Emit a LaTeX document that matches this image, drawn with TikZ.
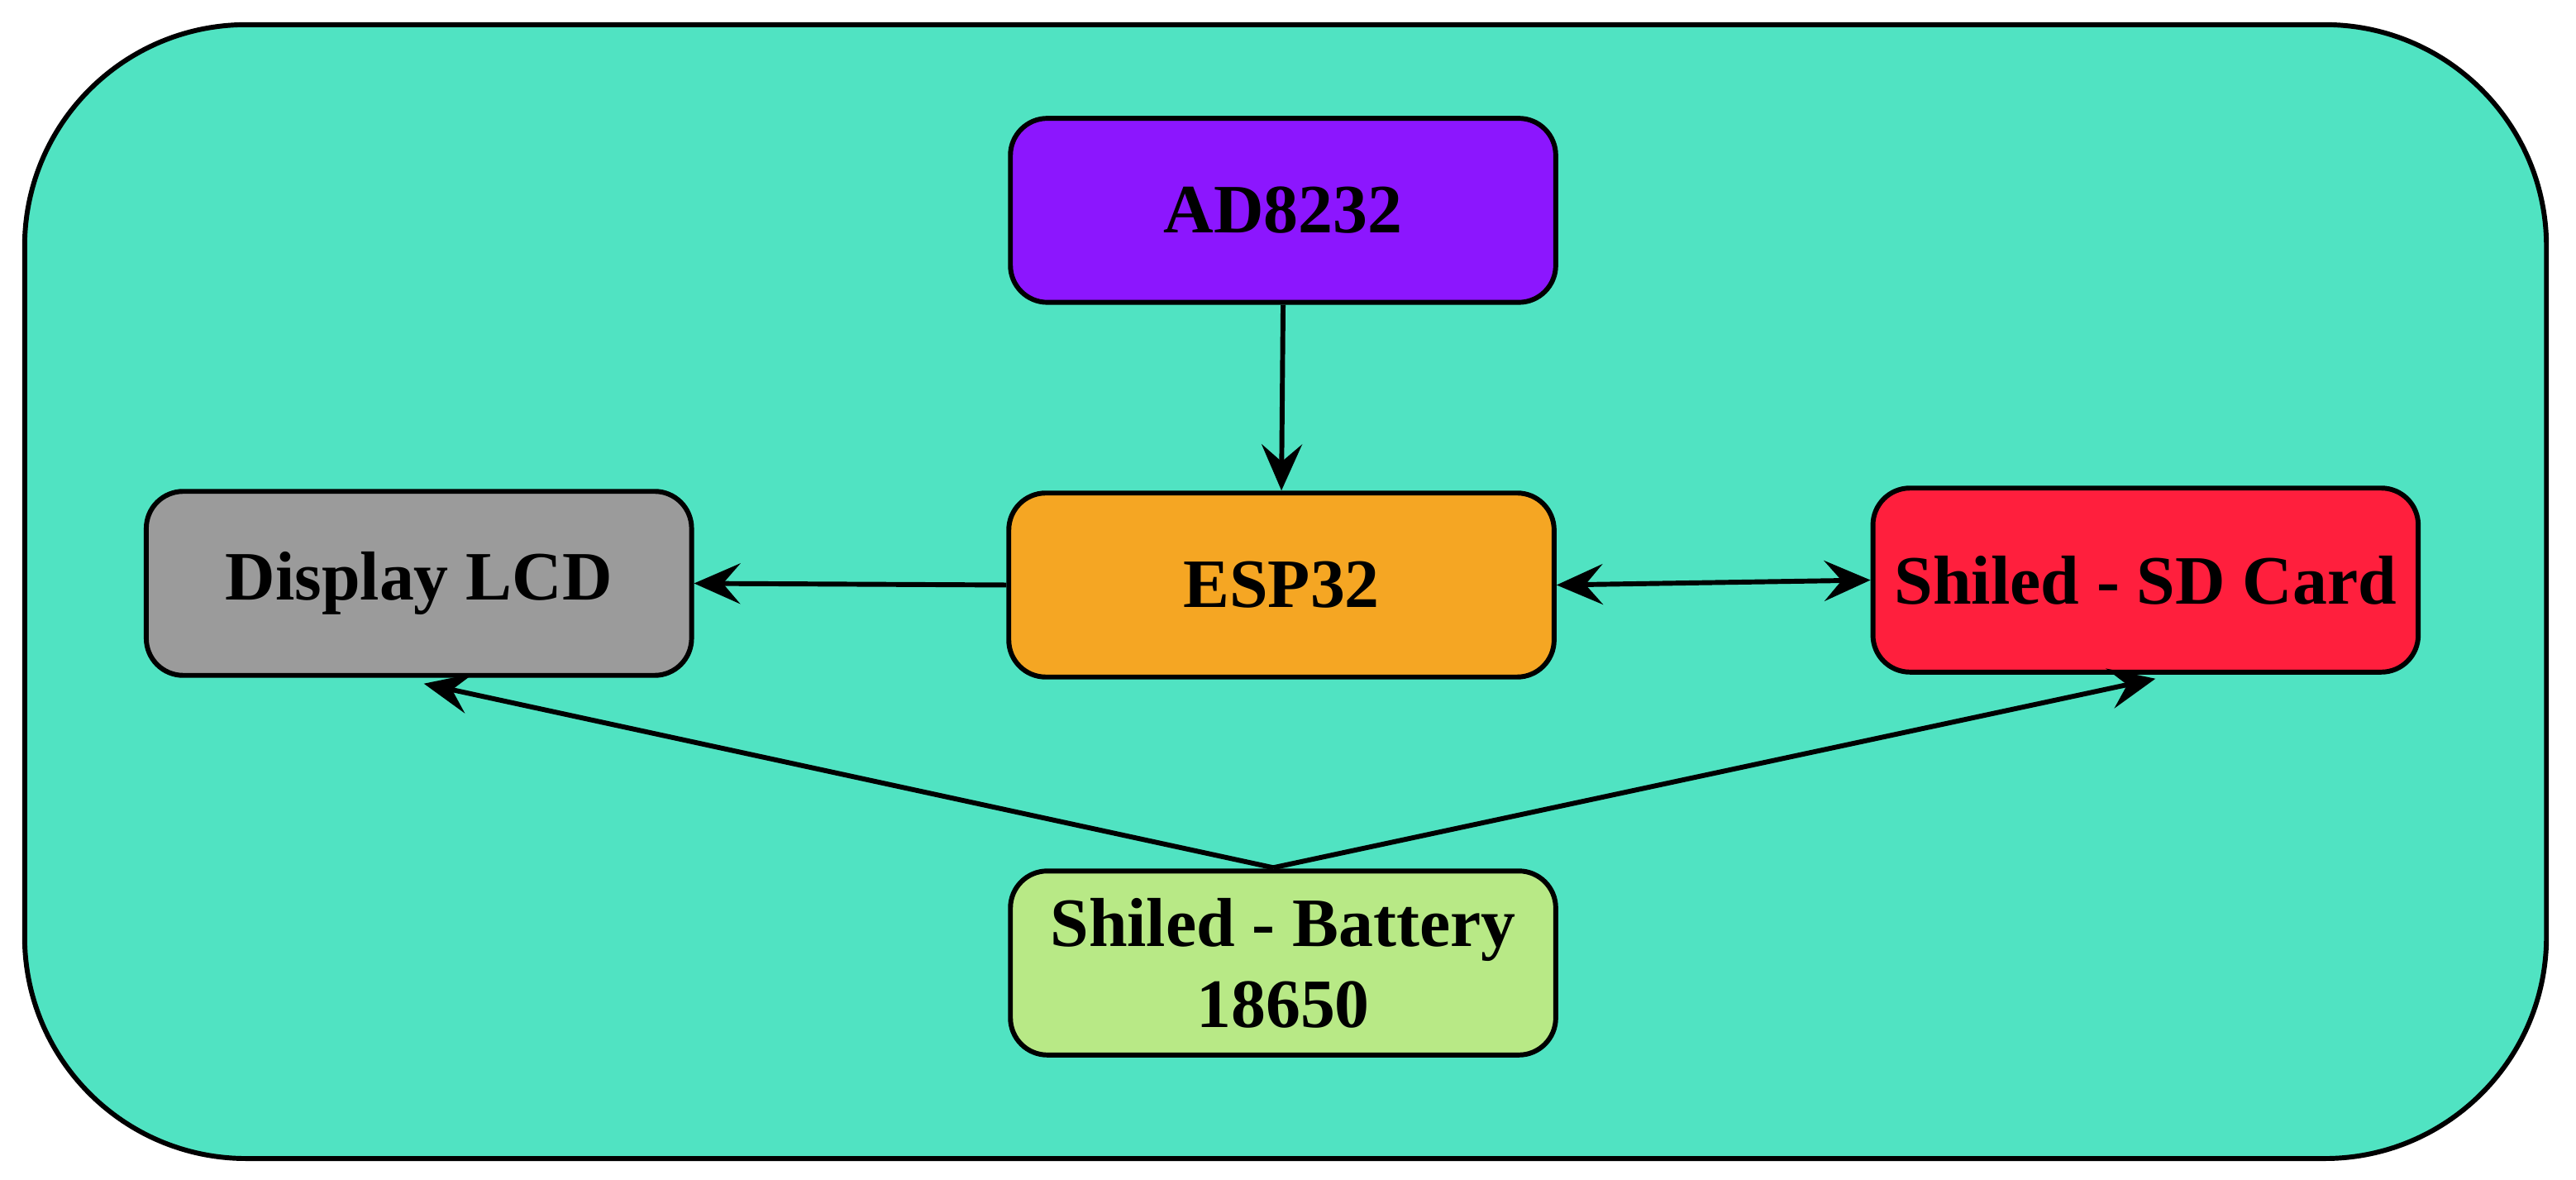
\documentclass[tikz,border=0pt]{standalone}
\usepackage{fontspec}
\setmainfont{Liberation Serif}
\usetikzlibrary{arrows.meta, calc}
\definecolor{bgteal}{HTML}{50E3C2}
\definecolor{adpurple}{HTML}{8C16FE}
\definecolor{esporange}{HTML}{F5A623}
\definecolor{lcdgrey}{HTML}{9B9B9B}
\definecolor{sdred}{HTML}{FF1F3D}
\definecolor{batgreen}{HTML}{B8E986}
\tikzset{>={Stealth[length=16pt, width=14pt, inset=6pt]}}
\tikzset{block/.style={draw=black, line width=1.7pt, rounded corners=0.45cm,
    minimum width=6.64cm, minimum height=2.24cm, align=center,
    font=\fontsize{24}{28}\selectfont\bfseries}}
\begin{document}
\begin{tikzpicture}[x=0.02cm, y=-0.02cm]
            \useasboundingbox (0,0) rectangle (1568,718);
            \draw[fill=bgteal, line width=1.7pt, rounded corners=2.7cm] (15,15) rectangle (1550,705);

            \node[block, fill=adpurple] (ad) at (781,128) {AD8232};
            \node[block, fill=esporange] (esp) at (780,356) {ESP32};
            \node[block, fill=lcdgrey] (lcd) at (255,355) {Display LCD};
            \node[block, fill=sdred] (sd) at (1306,353) {Shiled - SD Card};
            \node[block, fill=batgreen] (bat) at (781,586) {Shiled - Battery\\18650};

            \coordinate (apex) at (775,528);
            \coordinate (lcdin) at (258,416);
            \coordinate (sdin) at (1312,413);

            \draw[->, line width=1.7pt] (ad.south) -- (esp.north);
            \draw[->, line width=1.7pt] (esp.west) -- (lcd.east);
            \draw[<->, line width=1.7pt] (esp.east) -- (sd.west);
            \draw[->, line width=1.7pt] (apex) -- (lcdin);
            \draw[->, line width=1.7pt] (apex) -- (sdin);
        \end{tikzpicture}
\end{document}
